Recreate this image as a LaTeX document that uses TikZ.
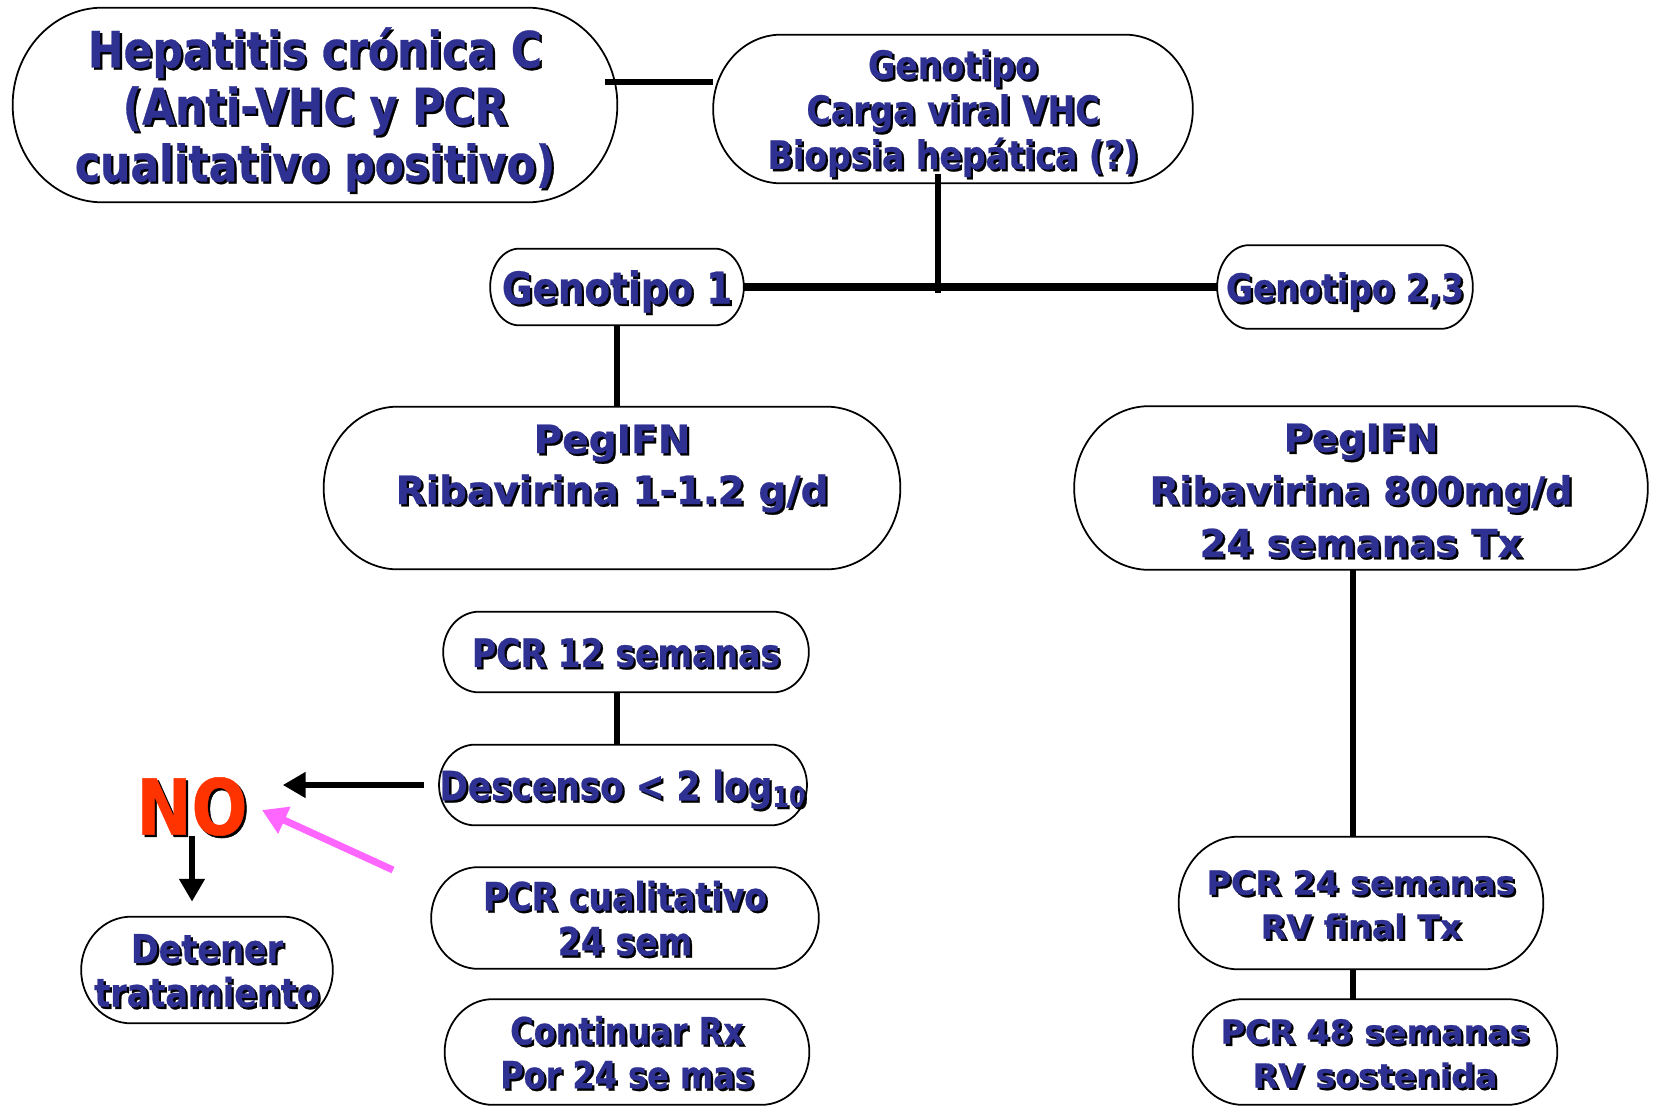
\documentclass[tikz,border=0pt]{standalone}
\usepackage{fontspec}
\usepackage{tikz}
\usetikzlibrary{arrows.meta, calc}
\setmainfont{DejaVu Sans}[BoldFeatures={FakeBold=0.6}]
\newfontfamily\estrecha{DejaVu Sans}[FakeStretch=0.85, BoldFeatures={FakeBold=0.6}]
\definecolor{azul}{RGB}{46,49,146}
\definecolor{rojo}{RGB}{255,51,0}
\definecolor{rosa}{RGB}{255,102,255}
\newdimen\px \px=0.02cm
% texto con sombra negra
\newcommand\sombra[2][azul]{\raisebox{-0.18em}[\height][\depth]{\makebox[0pt][l]{\hspace{1.3pt}\raisebox{-1.3pt}{\color{black}\begin{tabular}{@{}c@{}}#2\end{tabular}}}{\color{#1}\begin{tabular}{@{}c@{}}#2\end{tabular}}}}
% borde con extremos elipticos
\newcommand\contorno[2]{\draw[line width=1pt] let \p1=(#1.north), \p2=(#1.south), \n1={(\y1-\y2)/2} in
    ([xshift=#2*\px]#1.north west) -- ([xshift=-#2*\px]#1.north east)
    arc[start angle=90, end angle=-90, x radius=#2*\px, y radius=\n1]
    -- ([xshift=#2*\px]#1.south west)
    arc[start angle=270, end angle=90, x radius=#2*\px, y radius=\n1] -- cycle;}

\begin{document}
\begin{tikzpicture}[x=0.02cm, y=-0.02cm,
    caja/.style 2 args={inner sep=0pt, minimum width=#1*\px, minimum height=#2*\px},
    estr/.style 2 args={font=\estrecha\bfseries\fontsize{#1pt}{#2pt}\selectfont},
    norm/.style 2 args={font=\bfseries\fontsize{#1pt}{#2pt}\selectfont},
    linea/.style={line width=3.4pt},
    lineagruesa/.style={line width=4pt},
    flecha/.style={line width=3.5pt, -{Triangle[length=13pt, width=14pt]}},
    flecharosa/.style={rosa, line width=4pt, -{Triangle[length=14pt, width=16pt]}}]
    \useasboundingbox (0,0) rectangle (1654,1106);

    % diagnostico
    \node[caja={604}{194}, estr={28.5}{32.4}] (hep) at (315,105) {\sombra{Hepatitis crónica C\\(Anti-VHC y PCR\\cualitativo positivo)}};
    \node[caja={479}{148}, estr={22.2}{25.6}] (geno) at (953,109) {\sombra{Genotipo\\Carga viral VHC\\Biopsia hepática (?)}};

    % genotipos
    \node[caja={253}{76}, estr={25}{28}] (g1) at (617,287) {\sombra{Genotipo 1}};
    \node[caja={255}{83}, estr={22}{25}] (g23) at (1345,287) {\sombra{Genotipo 2,3}};

    % tratamiento
    \node[caja={576}{162}, norm={22.2}{29}] (peg1) at (612,488) {\sombra{PegIFN\\Ribavirina 1-1.2 g/d\\{}}};
    \node[caja={573}{163}, norm={21.9}{30}] (peg2) at (1361,488) {\sombra{PegIFN\\Ribavirina 800mg/d\\24 semanas Tx}};

    % genotipo 1
    \node[caja={365}{80}, estr={22.2}{25.6}] (pcr12) at (626,652) {\sombra{PCR 12 semanas}};
    \node[caja={362}{80}, estr={23}{26}] (desc) at (623,785) {\sombra{Descenso < 2 log\textsubscript{10}}};
    \node[caja={387}{101}, estr={22.2}{25.6}] (pcrc) at (625,918) {\sombra{PCR cualitativo\\24 sem}};
    \node[caja={364}{105}, estr={21.4}{25}] (cont) at (627,1052) {\sombra{Continuar Rx\\Por 24 se mas}};
    \node[inner sep=0pt, estr={44}{48}] (no) at (192,805) {\sombra[rojo]{NO}};
    \node[caja={251}{106}, estr={22.4}{25}] (det) at (207,970) {\sombra{Detener\\tratamiento}};

    % genotipo 2,3
    \node[caja={364}{132}, norm={18.9}{25}] (pcr24) at (1361,903) {\sombra{PCR 24 semanas\\RV final Tx}};
    \node[caja={364}{105}, norm={18.9}{25}] (pcr48) at (1375,1052) {\sombra{PCR 48 semanas\\RV sostenida}};

    % bordes
    \foreach \nodo/\radio in {hep/90, geno/68, g1/29, g23/32, peg1/74, peg2/75, pcr12/36, desc/36,
        pcrc/47, cont/48, det/50, pcr24/60, pcr48/50}
        \contorno{\nodo}{\radio};

    % conectores
    \coordinate (h1) at (hep.east |- 0,82);
    \draw[linea] ([xshift=-12*\px]h1) -- (geno.west |- 0,82);
    \coordinate (cruce) at (938,287);
    \coordinate (c1) at (geno.south -| cruce);
    \draw[linea] ([yshift=9*\px]c1) -- ([yshift=-6*\px]cruce);
    \draw[lineagruesa] (g1.east) -- (g23.west);
    \draw[linea] (g1.south) -- (g1.south |- peg1.north);
    \draw[linea] (pcr12.south -| g1.south) -- (desc.north -| g1.south);
    \coordinate (col) at (1353,0);
    \draw[linea] (peg2.south -| col) -- (pcr24.north -| col);
    \draw[linea] (pcr24.south -| col) -- (pcr48.north -| col);

    % flechas
    \draw[flecha] ([xshift=-15*\px]desc.west) -- ([xshift=35*\px, yshift=20*\px]no.east);
    \coordinate (punta) at ([yshift=15*\px]det.north);
    \draw[flecha] ([yshift=13*\px]no.south) -- (punta -| no.south);
    \coordinate (inicio) at (393,870);
    \draw[flecharosa] (inicio) -- ([xshift=70*\px, yshift=-5*\px]no.center);
\end{tikzpicture}
\end{document}
